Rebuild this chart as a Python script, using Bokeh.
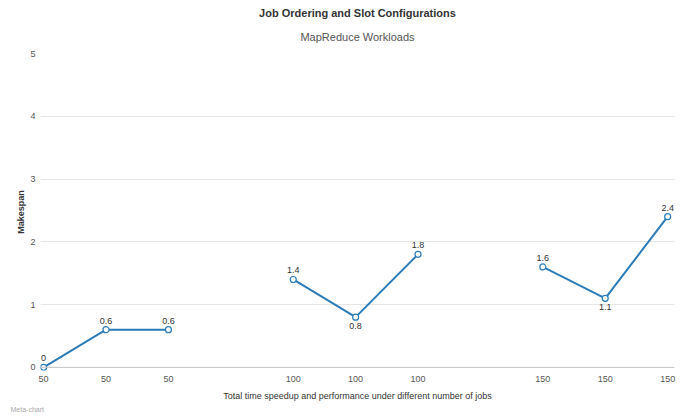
from bokeh.plotting import figure
from bokeh.models import ColumnDataSource, Range1d, FixedTicker, Title, LabelSet, Span
from bokeh.core.properties import value
from bokeh.embed import file_html
from bokeh.resources import INLINE
import numpy as np

# ---- data ----
x_labels = ["50", "50", "50", "", "100", "100", "100", "", "150", "150", "150"]
makespan = [0, 0.6, 0.6, None, 1.4, 0.8, 1.8, None, 1.6, 1.1, 2.4]
title_text = "Job Ordering and Slot Configurations"
subtitle_text = "MapReduce Workloads"
x_title = "Total time speedup and performance under different number of jobs"
y_title = "Makespan"
credit_text = "Meta-chart"
y_ticks = [0, 1, 2, 3, 4, 5]

FONT = "Liberation Sans Narrow, Liberation Sans, Arial, sans-serif"
LINE = "#2b7bb9"

idx = list(range(len(x_labels)))
yv = [np.nan if v is None else v for v in makespan]

p = figure(width=683, height=419, output_backend="svg", toolbar_location=None,
           x_range=Range1d(-0.05, len(x_labels) - 1 + 0.11),
           y_range=Range1d(-0.05, 5.0),
           min_border_left=40, min_border_right=9, min_border_bottom=49,
           min_border_top=53)
p.outline_line_color = None
p.background_fill_color = "white"
p.border_fill_color = "white"

# titles
p.add_layout(Title(text=subtitle_text, align="center", text_font=FONT,
                   text_font_size="11px", text_font_style="normal",
                   text_color="#555555", standoff=21), "above")
p.add_layout(Title(text=title_text, align="center", text_font=FONT,
                   text_font_size="11px", text_font_style="bold",
                   text_color="#333333", standoff=0), "above")

# baseline at zero
p.add_layout(Span(location=0, dimension="width", line_color="#c8c8c8", line_width=1))

# line + markers
src = ColumnDataSource(dict(x=idx, y=yv))
p.line("x", "y", source=src, line_color=LINE, line_width=2)
p.scatter("x", "y", source=src, size=6, fill_color="white",
          line_color=LINE, line_width=1.2)

# data labels: below for local minima, above otherwise
ax, ay, at, bx, by, bt = [], [], [], [], [], []
for i, v in enumerate(makespan):
    if v is None:
        continue
    prev_v = makespan[i - 1] if i > 0 else None
    next_v = makespan[i + 1] if i < len(makespan) - 1 else None
    below = prev_v is not None and next_v is not None and v < prev_v and v < next_v
    if below:
        bx.append(i); by.append(v); bt.append(f"{v:g}")
    else:
        ax.append(i); ay.append(v); at.append(f"{v:g}")

p.add_layout(LabelSet(x="x", y="y", text="t",
                      source=ColumnDataSource(dict(x=ax, y=ay, t=at)), y_offset=6,
                      text_align="center", text_baseline="bottom",
                      text_font=value(FONT), text_font_size="9px",
                      text_color="#333333"))
p.add_layout(LabelSet(x="x", y="y", text="t",
                      source=ColumnDataSource(dict(x=bx, y=by, t=bt)), y_offset=-6,
                      text_align="center", text_baseline="top",
                      text_font=value(FONT), text_font_size="9px",
                      text_color="#333333"))

# axes
p.xaxis.ticker = FixedTicker(ticks=[i for i, l in enumerate(x_labels) if l])
p.xaxis.major_label_overrides = {i: l for i, l in enumerate(x_labels)}
p.xaxis.axis_label = x_title
p.xaxis.axis_label_text_font = FONT
p.xaxis.axis_label_text_font_size = "9px"
p.xaxis.axis_label_text_font_style = "normal"
p.xaxis.axis_label_text_color = "#333333"
p.xaxis.axis_label_standoff = 6
p.xaxis.axis_line_color = None
p.xaxis.major_tick_line_color = None
p.xaxis.minor_tick_line_color = None
p.xaxis.major_tick_out = 0
p.xaxis.major_tick_in = 0
p.xaxis.minor_tick_out = 0
p.xaxis.major_label_text_font = FONT
p.xaxis.major_label_text_font_size = "9px"
p.xaxis.major_label_text_color = "#555555"
p.xaxis.major_label_standoff = 5

p.yaxis.ticker = FixedTicker(ticks=y_ticks)
p.yaxis.axis_label = y_title
p.yaxis.axis_label_text_font = FONT
p.yaxis.axis_label_text_font_size = "9px"
p.yaxis.axis_label_text_font_style = "bold"
p.yaxis.axis_label_text_color = "#333333"
p.yaxis.axis_label_standoff = 1
p.yaxis.axis_line_color = None
p.yaxis.major_tick_line_color = None
p.yaxis.minor_tick_line_color = None
p.yaxis.major_tick_out = 0
p.yaxis.major_tick_in = 0
p.yaxis.minor_tick_out = 0
p.yaxis.major_label_text_font = FONT
p.yaxis.major_label_text_font_size = "9px"
p.yaxis.major_label_text_color = "#555555"
p.yaxis.major_label_standoff = 5

p.xgrid.grid_line_color = None
p.ygrid.grid_line_color = "#e6e6e6"
p.ygrid.grid_line_width = 1

# credit text
p.add_layout(Title(text=credit_text, align="left", offset=-30, text_font=FONT,
                   text_font_size="7px", text_font_style="normal",
                   text_color="#aaaaaa", standoff=0), "below")

open("out.html", "w").write(file_html(p, INLINE))
